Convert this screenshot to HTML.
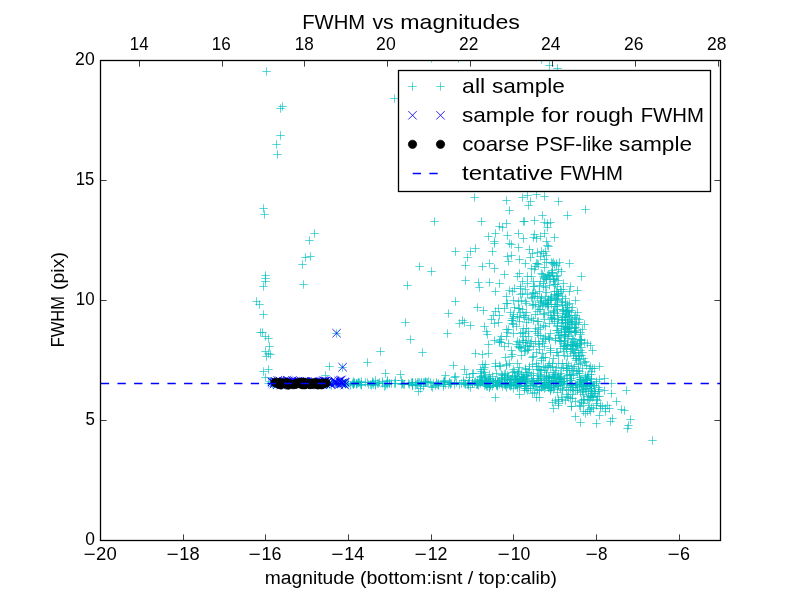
<!DOCTYPE html>
<html lang="en"><head><meta charset="utf-8"><title>FWHM vs magnitudes</title>
<style>
html,body{margin:0;padding:0;background:#fff}
body{width:800px;height:600px;overflow:hidden;font-family:"Liberation Sans",sans-serif}
svg{display:block;will-change:transform}
text{font-family:"Liberation Sans",sans-serif;fill:#000;stroke:none}
.tk{font-size:17.8px}.lg{font-size:20.6px}
.c{stroke:#00bfbf;stroke-width:1;stroke-opacity:.64;fill:none}
.b{stroke:#00f;stroke-width:.85;fill:none}
.k{fill:#000;stroke:#000;stroke-width:.7}
.ax{stroke:#000;fill:none}
</style></head><body>
<svg width="800" height="600" viewBox="0 0 800 600">
<defs>
<g id="p"><path d="M-4.2 0H4.2"/><path d="M0-4.2V4.2"/></g>
<path id="x" d="M-4.2-4.2L4.2 4.2M-4.2 4.2L4.2-4.2"/>
<circle id="o" r="4.17"/>
<clipPath id="cp"><rect x="100" y="60" width="621" height="481"/></clipPath>
</defs>
<rect width="800" height="600" fill="#fff"/>
<g clip-path="url(#cp)">
<g class="c">
<use href="#p" x="266.5" y="71.5"/>
<use href="#p" x="282.5" y="106.5"/>
<use href="#p" x="280.5" y="108.5"/>
<use href="#p" x="280.5" y="135.5"/>
<use href="#p" x="276.5" y="144.5"/>
<use href="#p" x="277.5" y="154.5"/>
<use href="#p" x="394.5" y="98.5"/>
<use href="#p" x="263.5" y="208.5"/>
<use href="#p" x="264.5" y="214.5"/>
<use href="#p" x="314.5" y="233.5"/>
<use href="#p" x="309.5" y="240.5"/>
<use href="#p" x="310.5" y="256.5"/>
<use href="#p" x="305.5" y="257.5"/>
<use href="#p" x="302.5" y="264.5"/>
<use href="#p" x="303.5" y="284.5"/>
<use href="#p" x="265.5" y="275.5"/>
<use href="#p" x="265.5" y="278.5"/>
<use href="#p" x="265.5" y="281.5"/>
<use href="#p" x="263.5" y="286.5"/>
<use href="#p" x="256.5" y="301.5"/>
<use href="#p" x="259.5" y="304.5"/>
<use href="#p" x="263.5" y="314.5"/>
<use href="#p" x="260.5" y="332.5"/>
<use href="#p" x="262.5" y="332.5"/>
<use href="#p" x="265.5" y="336.5"/>
<use href="#p" x="268.5" y="338.5"/>
<use href="#p" x="269.5" y="346.5"/>
<use href="#p" x="265.5" y="351.5"/>
<use href="#p" x="268.5" y="353.5"/>
<use href="#p" x="270.5" y="354.5"/>
<use href="#p" x="266.5" y="356.5"/>
<use href="#p" x="268.5" y="369.5"/>
<use href="#p" x="263.5" y="371.5"/>
<use href="#p" x="265.5" y="377.5"/>
<use href="#p" x="336.5" y="333.5"/>
<use href="#p" x="342.5" y="367.5"/>
<use href="#p" x="329.5" y="366.5"/>
<use href="#p" x="367.5" y="362.5"/>
<use href="#p" x="380.5" y="351.5"/>
<use href="#p" x="385.5" y="373.5"/>
<use href="#p" x="325.5" y="375.5"/>
<use href="#p" x="400.5" y="374.5"/>
<use href="#p" x="418.5" y="391.5"/>
<use href="#p" x="384.5" y="386.5"/>
<use href="#p" x="434.5" y="221.5"/>
<use href="#p" x="419.5" y="266.5"/>
<use href="#p" x="431.5" y="271.5"/>
<use href="#p" x="407.5" y="285.5"/>
<use href="#p" x="455.5" y="251.5"/>
<use href="#p" x="455.5" y="301.5"/>
<use href="#p" x="474.5" y="197.5"/>
<use href="#p" x="481.5" y="221.5"/>
<use href="#p" x="475.5" y="248.5"/>
<use href="#p" x="470.5" y="251.5"/>
<use href="#p" x="467.5" y="257.5"/>
<use href="#p" x="465.5" y="265.5"/>
<use href="#p" x="465.5" y="280.5"/>
<use href="#p" x="482.5" y="266.5"/>
<use href="#p" x="489.5" y="263.5"/>
<use href="#p" x="494.5" y="268.5"/>
<use href="#p" x="478.5" y="282.5"/>
<use href="#p" x="479.5" y="287.5"/>
<use href="#p" x="489.5" y="282.5"/>
<use href="#p" x="477.5" y="307.5"/>
<use href="#p" x="488.5" y="236.5"/>
<use href="#p" x="495.5" y="233.5"/>
<use href="#p" x="494.5" y="241.5"/>
<use href="#p" x="494.5" y="243.5"/>
<use href="#p" x="492.5" y="251.5"/>
<use href="#p" x="499.5" y="226.5"/>
<use href="#p" x="502.5" y="227.5"/>
<use href="#p" x="506.5" y="223.5"/>
<use href="#p" x="506.5" y="200.5"/>
<use href="#p" x="509.5" y="210.5"/>
<use href="#p" x="522.5" y="197.5"/>
<use href="#p" x="527.5" y="195.5"/>
<use href="#p" x="530.5" y="201.5"/>
<use href="#p" x="528.5" y="205.5"/>
<use href="#p" x="536.5" y="194.5"/>
<use href="#p" x="544.5" y="196.5"/>
<use href="#p" x="558.5" y="201.5"/>
<use href="#p" x="585.5" y="209.5"/>
<use href="#p" x="567.5" y="215.5"/>
<use href="#p" x="542.5" y="215.5"/>
<use href="#p" x="534.5" y="220.5"/>
<use href="#p" x="523.5" y="221.5"/>
<use href="#p" x="524.5" y="221.5"/>
<use href="#p" x="544.5" y="222.5"/>
<use href="#p" x="547.5" y="223.5"/>
<use href="#p" x="550.5" y="222.5"/>
<use href="#p" x="547.5" y="227.5"/>
<use href="#p" x="518.5" y="233.5"/>
<use href="#p" x="507.5" y="235.5"/>
<use href="#p" x="523.5" y="238.5"/>
<use href="#p" x="534.5" y="234.5"/>
<use href="#p" x="533.5" y="237.5"/>
<use href="#p" x="536.5" y="238.5"/>
<use href="#p" x="540.5" y="236.5"/>
<use href="#p" x="544.5" y="233.5"/>
<use href="#p" x="554.5" y="237.5"/>
<use href="#p" x="546.5" y="241.5"/>
<use href="#p" x="509.5" y="243.5"/>
<use href="#p" x="511.5" y="244.5"/>
<use href="#p" x="518.5" y="247.5"/>
<use href="#p" x="547.5" y="245.5"/>
<use href="#p" x="548.5" y="246.5"/>
<use href="#p" x="529.5" y="249.5"/>
<use href="#p" x="532.5" y="253.5"/>
<use href="#p" x="537.5" y="252.5"/>
<use href="#p" x="541.5" y="251.5"/>
<use href="#p" x="543.5" y="253.5"/>
<use href="#p" x="545.5" y="251.5"/>
<use href="#p" x="546.5" y="255.5"/>
<use href="#p" x="540.5" y="256.5"/>
<use href="#p" x="530.5" y="257.5"/>
<use href="#p" x="511.5" y="255.5"/>
<use href="#p" x="507.5" y="256.5"/>
<use href="#p" x="519.5" y="259.5"/>
<use href="#p" x="508.5" y="261.5"/>
<use href="#p" x="544.5" y="259.5"/>
<use href="#p" x="525.5" y="263.5"/>
<use href="#p" x="536.5" y="263.5"/>
<use href="#p" x="546.5" y="262.5"/>
<use href="#p" x="553.5" y="262.5"/>
<use href="#p" x="556.5" y="263.5"/>
<use href="#p" x="569.5" y="263.5"/>
<use href="#p" x="405.5" y="322.5"/>
<use href="#p" x="410.5" y="339.5"/>
<use href="#p" x="422.5" y="352.5"/>
<use href="#p" x="448.5" y="313.5"/>
<use href="#p" x="447.5" y="333.5"/>
<use href="#p" x="459.5" y="323.5"/>
<use href="#p" x="462.5" y="320.5"/>
<use href="#p" x="464.5" y="322.5"/>
<use href="#p" x="470.5" y="325.5"/>
<use href="#p" x="483.5" y="310.5"/>
<use href="#p" x="493.5" y="315.5"/>
<use href="#p" x="495.5" y="311.5"/>
<use href="#p" x="498.5" y="308.5"/>
<use href="#p" x="494.5" y="323.5"/>
<use href="#p" x="484.5" y="326.5"/>
<use href="#p" x="486.5" y="331.5"/>
<use href="#p" x="487.5" y="334.5"/>
<use href="#p" x="488.5" y="344.5"/>
<use href="#p" x="494.5" y="340.5"/>
<use href="#p" x="499.5" y="342.5"/>
<use href="#p" x="475.5" y="353.5"/>
<use href="#p" x="482.5" y="354.5"/>
<use href="#p" x="453.5" y="365.5"/>
<use href="#p" x="464.5" y="369.5"/>
<use href="#p" x="472.5" y="373.5"/>
<use href="#p" x="482.5" y="364.5"/>
<use href="#p" x="483.5" y="369.5"/>
<use href="#p" x="445.5" y="375.5"/>
<use href="#p" x="455.5" y="376.5"/>
<use href="#p" x="495.5" y="366.5"/>
<use href="#p" x="581.5" y="276.5"/>
<use href="#p" x="577.5" y="290.5"/>
<use href="#p" x="584.5" y="324.5"/>
<use href="#p" x="592.5" y="350.5"/>
<use href="#p" x="599.5" y="366.5"/>
<use href="#p" x="604.5" y="378.5"/>
<use href="#p" x="611.5" y="383.5"/>
<use href="#p" x="626.5" y="390.5"/>
<use href="#p" x="611.5" y="393.5"/>
<use href="#p" x="604.5" y="390.5"/>
<use href="#p" x="616.5" y="401.5"/>
<use href="#p" x="607.5" y="405.5"/>
<use href="#p" x="621.5" y="409.5"/>
<use href="#p" x="624.5" y="410.5"/>
<use href="#p" x="605.5" y="411.5"/>
<use href="#p" x="630.5" y="419.5"/>
<use href="#p" x="612.5" y="418.5"/>
<use href="#p" x="610.5" y="421.5"/>
<use href="#p" x="599.5" y="415.5"/>
<use href="#p" x="596.5" y="423.5"/>
<use href="#p" x="580.5" y="422.5"/>
<use href="#p" x="575.5" y="416.5"/>
<use href="#p" x="628.5" y="425.5"/>
<use href="#p" x="627.5" y="428.5"/>
<use href="#p" x="652.5" y="440.5"/>
<use href="#p" x="553.5" y="408.5"/>
<use href="#p" x="495.5" y="397.5"/>
<use href="#p" x="549.5" y="65.5"/>
<use href="#p" x="557.5" y="68.5"/>
<use href="#p" x="541.5" y="59.5"/>
<use href="#p" x="431.5" y="58.5"/>
<use href="#p" x="458.5" y="58.5"/>
<use href="#p" x="504.5" y="274.5"/>
<use href="#p" x="499.5" y="283.5"/>
<use href="#p" x="495.5" y="291.5"/>
<use href="#p" x="519.5" y="273.5"/>
<use href="#p" x="517.5" y="276.5"/>
<use href="#p" x="522.5" y="281.5"/>
<use href="#p" x="527.5" y="283.5"/>
<use href="#p" x="514.5" y="288.5"/>
<use href="#p" x="506.5" y="296.5"/>
<use href="#p" x="512.5" y="291.5"/>
<use href="#p" x="520.5" y="294.5"/>
<use href="#p" x="527.5" y="294.5"/>
<use href="#p" x="525.5" y="301.5"/>
<use href="#p" x="507.5" y="303.5"/>
<use href="#p" x="504.5" y="308.5"/>
<use href="#p" x="519.5" y="308.5"/>
<use href="#p" x="526.5" y="312.5"/>
<use href="#p" x="513.5" y="314.5"/>
<use href="#p" x="517.5" y="316.5"/>
<use href="#p" x="511.5" y="320.5"/>
<use href="#p" x="498.5" y="322.5"/>
<use href="#p" x="506.5" y="329.5"/>
<use href="#p" x="501.5" y="342.5"/>
<use href="#p" x="506.5" y="336.5"/>
<use href="#p" x="513.5" y="333.5"/>
<use href="#p" x="520.5" y="333.5"/>
<use href="#p" x="526.5" y="328.5"/>
<use href="#p" x="528.5" y="319.5"/>
<use href="#p" x="535.5" y="314.5"/>
<use href="#p" x="533.5" y="281.5"/>
<use href="#p" x="531.5" y="268.5"/>
<use href="#p" x="505.5" y="357.5"/>
<use href="#p" x="512.5" y="354.5"/>
<use href="#p" x="519.5" y="347.5"/>
<use href="#p" x="523.5" y="342.5"/>
<use href="#p" x="517.5" y="341.5"/>
<use href="#p" x="528.5" y="336.5"/>
<use href="#p" x="521.5" y="355.5"/>
<use href="#p" x="527.5" y="350.5"/>
<use href="#p" x="530.5" y="343.5"/>
<use href="#p" x="532.5" y="357.5"/>
<use href="#p" x="495.5" y="363.5"/>
<use href="#p" x="575.5" y="300.5"/>
<use href="#p" x="584.5" y="342.5"/>
<use href="#p" x="579.5" y="319.5"/>
<use href="#p" x="577.5" y="312.5"/>
<use href="#p" x="583.5" y="411.5"/>
<use href="#p" x="274.5" y="383.5"/>
<use href="#p" x="331.5" y="381.5"/>
<use href="#p" x="303.5" y="383.5"/>
<use href="#p" x="327.5" y="384.5"/>
<use href="#p" x="348.5" y="383.5"/>
<use href="#p" x="312.5" y="382.5"/>
<use href="#p" x="309.5" y="382.5"/>
<use href="#p" x="273.5" y="382.5"/>
<use href="#p" x="290.5" y="383.5"/>
<use href="#p" x="308.5" y="382.5"/>
<use href="#p" x="323.5" y="384.5"/>
<use href="#p" x="333.5" y="383.5"/>
<use href="#p" x="299.5" y="383.5"/>
<use href="#p" x="273.5" y="384.5"/>
<use href="#p" x="291.5" y="384.5"/>
<use href="#p" x="342.5" y="383.5"/>
<use href="#p" x="285.5" y="383.5"/>
<use href="#p" x="305.5" y="384.5"/>
<use href="#p" x="344.5" y="383.5"/>
<use href="#p" x="270.5" y="381.5"/>
<use href="#p" x="317.5" y="383.5"/>
<use href="#p" x="345.5" y="384.5"/>
<use href="#p" x="286.5" y="383.5"/>
<use href="#p" x="312.5" y="382.5"/>
<use href="#p" x="342.5" y="383.5"/>
<use href="#p" x="278.5" y="382.5"/>
<use href="#p" x="310.5" y="383.5"/>
<use href="#p" x="329.5" y="384.5"/>
<use href="#p" x="322.5" y="384.5"/>
<use href="#p" x="306.5" y="384.5"/>
<use href="#p" x="284.5" y="383.5"/>
<use href="#p" x="308.5" y="384.5"/>
<use href="#p" x="298.5" y="383.5"/>
<use href="#p" x="307.5" y="383.5"/>
<use href="#p" x="298.5" y="382.5"/>
<use href="#p" x="336.5" y="383.5"/>
<use href="#p" x="331.5" y="385.5"/>
<use href="#p" x="293.5" y="384.5"/>
<use href="#p" x="314.5" y="383.5"/>
<use href="#p" x="290.5" y="382.5"/>
<use href="#p" x="305.5" y="382.5"/>
<use href="#p" x="296.5" y="383.5"/>
<use href="#p" x="321.5" y="383.5"/>
<use href="#p" x="298.5" y="382.5"/>
<use href="#p" x="305.5" y="383.5"/>
<use href="#p" x="326.5" y="382.5"/>
<use href="#p" x="301.5" y="384.5"/>
<use href="#p" x="342.5" y="383.5"/>
<use href="#p" x="282.5" y="384.5"/>
<use href="#p" x="328.5" y="382.5"/>
<use href="#p" x="302.5" y="383.5"/>
<use href="#p" x="302.5" y="383.5"/>
<use href="#p" x="320.5" y="384.5"/>
<use href="#p" x="310.5" y="383.5"/>
<use href="#p" x="302.5" y="382.5"/>
<use href="#p" x="268.5" y="383.5"/>
<use href="#p" x="275.5" y="383.5"/>
<use href="#p" x="326.5" y="383.5"/>
<use href="#p" x="310.5" y="382.5"/>
<use href="#p" x="325.5" y="384.5"/>
<use href="#p" x="346.5" y="383.5"/>
<use href="#p" x="323.5" y="382.5"/>
<use href="#p" x="272.5" y="383.5"/>
<use href="#p" x="293.5" y="383.5"/>
<use href="#p" x="316.5" y="383.5"/>
<use href="#p" x="287.5" y="384.5"/>
<use href="#p" x="347.5" y="383.5"/>
<use href="#p" x="345.5" y="383.5"/>
<use href="#p" x="337.5" y="384.5"/>
<use href="#p" x="306.5" y="383.5"/>
<use href="#p" x="394.5" y="383.5"/>
<use href="#p" x="368.5" y="384.5"/>
<use href="#p" x="409.5" y="384.5"/>
<use href="#p" x="379.5" y="382.5"/>
<use href="#p" x="412.5" y="382.5"/>
<use href="#p" x="408.5" y="383.5"/>
<use href="#p" x="356.5" y="383.5"/>
<use href="#p" x="395.5" y="380.5"/>
<use href="#p" x="371.5" y="385.5"/>
<use href="#p" x="402.5" y="383.5"/>
<use href="#p" x="387.5" y="384.5"/>
<use href="#p" x="382.5" y="381.5"/>
<use href="#p" x="412.5" y="385.5"/>
<use href="#p" x="354.5" y="382.5"/>
<use href="#p" x="389.5" y="383.5"/>
<use href="#p" x="372.5" y="381.5"/>
<use href="#p" x="352.5" y="383.5"/>
<use href="#p" x="402.5" y="383.5"/>
<use href="#p" x="389.5" y="383.5"/>
<use href="#p" x="412.5" y="384.5"/>
<use href="#p" x="391.5" y="383.5"/>
<use href="#p" x="373.5" y="384.5"/>
<use href="#p" x="418.5" y="382.5"/>
<use href="#p" x="358.5" y="382.5"/>
<use href="#p" x="353.5" y="383.5"/>
<use href="#p" x="401.5" y="384.5"/>
<use href="#p" x="375.5" y="385.5"/>
<use href="#p" x="375.5" y="384.5"/>
<use href="#p" x="411.5" y="382.5"/>
<use href="#p" x="372.5" y="383.5"/>
<use href="#p" x="412.5" y="385.5"/>
<use href="#p" x="395.5" y="383.5"/>
<use href="#p" x="373.5" y="382.5"/>
<use href="#p" x="354.5" y="383.5"/>
<use href="#p" x="367.5" y="382.5"/>
<use href="#p" x="417.5" y="384.5"/>
<use href="#p" x="378.5" y="383.5"/>
<use href="#p" x="361.5" y="385.5"/>
<use href="#p" x="370.5" y="384.5"/>
<use href="#p" x="412.5" y="382.5"/>
<use href="#p" x="361.5" y="384.5"/>
<use href="#p" x="404.5" y="384.5"/>
<use href="#p" x="359.5" y="382.5"/>
<use href="#p" x="417.5" y="382.5"/>
<use href="#p" x="387.5" y="380.5"/>
<use href="#p" x="353.5" y="384.5"/>
<use href="#p" x="415.5" y="382.5"/>
<use href="#p" x="375.5" y="380.5"/>
<use href="#p" x="401.5" y="380.5"/>
<use href="#p" x="386.5" y="383.5"/>
<use href="#p" x="356.5" y="384.5"/>
<use href="#p" x="357.5" y="383.5"/>
<use href="#p" x="360.5" y="384.5"/>
<use href="#p" x="361.5" y="381.5"/>
<use href="#p" x="353.5" y="381.5"/>
<use href="#p" x="353.5" y="384.5"/>
<use href="#p" x="416.5" y="384.5"/>
<use href="#p" x="356.5" y="383.5"/>
<use href="#p" x="385.5" y="385.5"/>
<use href="#p" x="358.5" y="382.5"/>
<use href="#p" x="365.5" y="382.5"/>
<use href="#p" x="403.5" y="384.5"/>
<use href="#p" x="415.5" y="385.5"/>
<use href="#p" x="382.5" y="383.5"/>
<use href="#p" x="350.5" y="385.5"/>
<use href="#p" x="419.5" y="382.5"/>
<use href="#p" x="353.5" y="383.5"/>
<use href="#p" x="377.5" y="383.5"/>
<use href="#p" x="387.5" y="381.5"/>
<use href="#p" x="412.5" y="383.5"/>
<use href="#p" x="423.5" y="382.5"/>
<use href="#p" x="431.5" y="386.5"/>
<use href="#p" x="459.5" y="384.5"/>
<use href="#p" x="454.5" y="384.5"/>
<use href="#p" x="454.5" y="377.5"/>
<use href="#p" x="423.5" y="386.5"/>
<use href="#p" x="428.5" y="381.5"/>
<use href="#p" x="421.5" y="382.5"/>
<use href="#p" x="424.5" y="382.5"/>
<use href="#p" x="425.5" y="381.5"/>
<use href="#p" x="468.5" y="383.5"/>
<use href="#p" x="464.5" y="383.5"/>
<use href="#p" x="430.5" y="382.5"/>
<use href="#p" x="432.5" y="387.5"/>
<use href="#p" x="468.5" y="385.5"/>
<use href="#p" x="448.5" y="384.5"/>
<use href="#p" x="438.5" y="384.5"/>
<use href="#p" x="443.5" y="384.5"/>
<use href="#p" x="433.5" y="383.5"/>
<use href="#p" x="449.5" y="382.5"/>
<use href="#p" x="456.5" y="382.5"/>
<use href="#p" x="445.5" y="384.5"/>
<use href="#p" x="461.5" y="383.5"/>
<use href="#p" x="425.5" y="382.5"/>
<use href="#p" x="450.5" y="383.5"/>
<use href="#p" x="469.5" y="377.5"/>
<use href="#p" x="427.5" y="382.5"/>
<use href="#p" x="444.5" y="380.5"/>
<use href="#p" x="451.5" y="383.5"/>
<use href="#p" x="436.5" y="382.5"/>
<use href="#p" x="468.5" y="384.5"/>
<use href="#p" x="444.5" y="381.5"/>
<use href="#p" x="443.5" y="386.5"/>
<use href="#p" x="465.5" y="383.5"/>
<use href="#p" x="420.5" y="388.5"/>
<use href="#p" x="463.5" y="382.5"/>
<use href="#p" x="426.5" y="382.5"/>
<use href="#p" x="438.5" y="383.5"/>
<use href="#p" x="444.5" y="382.5"/>
<use href="#p" x="443.5" y="381.5"/>
<use href="#p" x="421.5" y="382.5"/>
<use href="#p" x="435.5" y="385.5"/>
<use href="#p" x="437.5" y="384.5"/>
<use href="#p" x="467.5" y="384.5"/>
<use href="#p" x="465.5" y="384.5"/>
<use href="#p" x="449.5" y="382.5"/>
<use href="#p" x="466.5" y="374.5"/>
<use href="#p" x="463.5" y="380.5"/>
<use href="#p" x="438.5" y="385.5"/>
<use href="#p" x="425.5" y="382.5"/>
<use href="#p" x="450.5" y="384.5"/>
<use href="#p" x="436.5" y="383.5"/>
<use href="#p" x="420.5" y="384.5"/>
<use href="#p" x="469.5" y="380.5"/>
<use href="#p" x="468.5" y="383.5"/>
<use href="#p" x="504.5" y="382.5"/>
<use href="#p" x="478.5" y="385.5"/>
<use href="#p" x="477.5" y="383.5"/>
<use href="#p" x="473.5" y="373.5"/>
<use href="#p" x="498.5" y="381.5"/>
<use href="#p" x="479.5" y="382.5"/>
<use href="#p" x="497.5" y="385.5"/>
<use href="#p" x="510.5" y="379.5"/>
<use href="#p" x="513.5" y="369.5"/>
<use href="#p" x="475.5" y="381.5"/>
<use href="#p" x="486.5" y="383.5"/>
<use href="#p" x="490.5" y="382.5"/>
<use href="#p" x="489.5" y="387.5"/>
<use href="#p" x="490.5" y="385.5"/>
<use href="#p" x="492.5" y="386.5"/>
<use href="#p" x="507.5" y="384.5"/>
<use href="#p" x="485.5" y="382.5"/>
<use href="#p" x="487.5" y="386.5"/>
<use href="#p" x="489.5" y="387.5"/>
<use href="#p" x="477.5" y="384.5"/>
<use href="#p" x="501.5" y="383.5"/>
<use href="#p" x="490.5" y="385.5"/>
<use href="#p" x="515.5" y="382.5"/>
<use href="#p" x="511.5" y="385.5"/>
<use href="#p" x="481.5" y="381.5"/>
<use href="#p" x="482.5" y="381.5"/>
<use href="#p" x="509.5" y="384.5"/>
<use href="#p" x="497.5" y="384.5"/>
<use href="#p" x="470.5" y="387.5"/>
<use href="#p" x="501.5" y="382.5"/>
<use href="#p" x="489.5" y="383.5"/>
<use href="#p" x="509.5" y="380.5"/>
<use href="#p" x="507.5" y="378.5"/>
<use href="#p" x="516.5" y="378.5"/>
<use href="#p" x="504.5" y="384.5"/>
<use href="#p" x="515.5" y="379.5"/>
<use href="#p" x="484.5" y="385.5"/>
<use href="#p" x="486.5" y="386.5"/>
<use href="#p" x="472.5" y="382.5"/>
<use href="#p" x="513.5" y="388.5"/>
<use href="#p" x="477.5" y="383.5"/>
<use href="#p" x="497.5" y="386.5"/>
<use href="#p" x="495.5" y="382.5"/>
<use href="#p" x="510.5" y="386.5"/>
<use href="#p" x="489.5" y="381.5"/>
<use href="#p" x="477.5" y="384.5"/>
<use href="#p" x="489.5" y="382.5"/>
<use href="#p" x="472.5" y="383.5"/>
<use href="#p" x="485.5" y="384.5"/>
<use href="#p" x="501.5" y="383.5"/>
<use href="#p" x="472.5" y="383.5"/>
<use href="#p" x="519.5" y="385.5"/>
<use href="#p" x="496.5" y="385.5"/>
<use href="#p" x="485.5" y="380.5"/>
<use href="#p" x="511.5" y="384.5"/>
<use href="#p" x="476.5" y="384.5"/>
<use href="#p" x="486.5" y="381.5"/>
<use href="#p" x="516.5" y="384.5"/>
<use href="#p" x="481.5" y="380.5"/>
<use href="#p" x="506.5" y="387.5"/>
<use href="#p" x="474.5" y="382.5"/>
<use href="#p" x="496.5" y="384.5"/>
<use href="#p" x="502.5" y="386.5"/>
<use href="#p" x="480.5" y="383.5"/>
<use href="#p" x="486.5" y="384.5"/>
<use href="#p" x="497.5" y="380.5"/>
<use href="#p" x="499.5" y="381.5"/>
<use href="#p" x="477.5" y="380.5"/>
<use href="#p" x="490.5" y="382.5"/>
<use href="#p" x="519.5" y="386.5"/>
<use href="#p" x="486.5" y="383.5"/>
<use href="#p" x="509.5" y="385.5"/>
<use href="#p" x="480.5" y="381.5"/>
<use href="#p" x="493.5" y="381.5"/>
<use href="#p" x="495.5" y="382.5"/>
<use href="#p" x="499.5" y="384.5"/>
<use href="#p" x="505.5" y="384.5"/>
<use href="#p" x="509.5" y="383.5"/>
<use href="#p" x="505.5" y="385.5"/>
<use href="#p" x="510.5" y="382.5"/>
<use href="#p" x="527.5" y="374.5"/>
<use href="#p" x="544.5" y="385.5"/>
<use href="#p" x="550.5" y="390.5"/>
<use href="#p" x="533.5" y="373.5"/>
<use href="#p" x="522.5" y="379.5"/>
<use href="#p" x="536.5" y="382.5"/>
<use href="#p" x="533.5" y="383.5"/>
<use href="#p" x="534.5" y="383.5"/>
<use href="#p" x="525.5" y="386.5"/>
<use href="#p" x="549.5" y="380.5"/>
<use href="#p" x="524.5" y="379.5"/>
<use href="#p" x="516.5" y="383.5"/>
<use href="#p" x="546.5" y="384.5"/>
<use href="#p" x="548.5" y="384.5"/>
<use href="#p" x="525.5" y="383.5"/>
<use href="#p" x="522.5" y="377.5"/>
<use href="#p" x="541.5" y="382.5"/>
<use href="#p" x="556.5" y="383.5"/>
<use href="#p" x="526.5" y="388.5"/>
<use href="#p" x="539.5" y="390.5"/>
<use href="#p" x="526.5" y="385.5"/>
<use href="#p" x="548.5" y="387.5"/>
<use href="#p" x="536.5" y="386.5"/>
<use href="#p" x="532.5" y="381.5"/>
<use href="#p" x="544.5" y="385.5"/>
<use href="#p" x="538.5" y="380.5"/>
<use href="#p" x="524.5" y="388.5"/>
<use href="#p" x="533.5" y="385.5"/>
<use href="#p" x="558.5" y="381.5"/>
<use href="#p" x="551.5" y="385.5"/>
<use href="#p" x="538.5" y="375.5"/>
<use href="#p" x="544.5" y="379.5"/>
<use href="#p" x="521.5" y="378.5"/>
<use href="#p" x="533.5" y="384.5"/>
<use href="#p" x="555.5" y="383.5"/>
<use href="#p" x="523.5" y="376.5"/>
<use href="#p" x="559.5" y="382.5"/>
<use href="#p" x="553.5" y="385.5"/>
<use href="#p" x="545.5" y="387.5"/>
<use href="#p" x="531.5" y="375.5"/>
<use href="#p" x="519.5" y="378.5"/>
<use href="#p" x="528.5" y="388.5"/>
<use href="#p" x="548.5" y="382.5"/>
<use href="#p" x="533.5" y="381.5"/>
<use href="#p" x="551.5" y="388.5"/>
<use href="#p" x="524.5" y="386.5"/>
<use href="#p" x="552.5" y="376.5"/>
<use href="#p" x="553.5" y="383.5"/>
<use href="#p" x="547.5" y="385.5"/>
<use href="#p" x="524.5" y="385.5"/>
<use href="#p" x="525.5" y="381.5"/>
<use href="#p" x="517.5" y="384.5"/>
<use href="#p" x="517.5" y="373.5"/>
<use href="#p" x="548.5" y="383.5"/>
<use href="#p" x="537.5" y="390.5"/>
<use href="#p" x="549.5" y="387.5"/>
<use href="#p" x="527.5" y="390.5"/>
<use href="#p" x="530.5" y="385.5"/>
<use href="#p" x="555.5" y="382.5"/>
<use href="#p" x="559.5" y="379.5"/>
<use href="#p" x="519.5" y="382.5"/>
<use href="#p" x="550.5" y="390.5"/>
<use href="#p" x="540.5" y="382.5"/>
<use href="#p" x="515.5" y="385.5"/>
<use href="#p" x="542.5" y="386.5"/>
<use href="#p" x="527.5" y="382.5"/>
<use href="#p" x="530.5" y="388.5"/>
<use href="#p" x="558.5" y="374.5"/>
<use href="#p" x="548.5" y="387.5"/>
<use href="#p" x="517.5" y="384.5"/>
<use href="#p" x="545.5" y="384.5"/>
<use href="#p" x="515.5" y="382.5"/>
<use href="#p" x="554.5" y="374.5"/>
<use href="#p" x="541.5" y="387.5"/>
<use href="#p" x="543.5" y="383.5"/>
<use href="#p" x="596.5" y="381.5"/>
<use href="#p" x="593.5" y="385.5"/>
<use href="#p" x="583.5" y="386.5"/>
<use href="#p" x="586.5" y="382.5"/>
<use href="#p" x="570.5" y="380.5"/>
<use href="#p" x="570.5" y="385.5"/>
<use href="#p" x="562.5" y="389.5"/>
<use href="#p" x="596.5" y="383.5"/>
<use href="#p" x="571.5" y="383.5"/>
<use href="#p" x="599.5" y="389.5"/>
<use href="#p" x="560.5" y="382.5"/>
<use href="#p" x="591.5" y="382.5"/>
<use href="#p" x="581.5" y="384.5"/>
<use href="#p" x="561.5" y="381.5"/>
<use href="#p" x="586.5" y="380.5"/>
<use href="#p" x="588.5" y="391.5"/>
<use href="#p" x="587.5" y="385.5"/>
<use href="#p" x="587.5" y="377.5"/>
<use href="#p" x="587.5" y="378.5"/>
<use href="#p" x="590.5" y="383.5"/>
<use href="#p" x="575.5" y="384.5"/>
<use href="#p" x="598.5" y="387.5"/>
<use href="#p" x="579.5" y="382.5"/>
<use href="#p" x="570.5" y="389.5"/>
<use href="#p" x="599.5" y="379.5"/>
<use href="#p" x="571.5" y="384.5"/>
<use href="#p" x="577.5" y="387.5"/>
<use href="#p" x="587.5" y="376.5"/>
<use href="#p" x="591.5" y="386.5"/>
<use href="#p" x="572.5" y="394.5"/>
<use href="#p" x="561.5" y="382.5"/>
<use href="#p" x="583.5" y="381.5"/>
<use href="#p" x="583.5" y="381.5"/>
<use href="#p" x="589.5" y="385.5"/>
<use href="#p" x="570.5" y="380.5"/>
<use href="#p" x="592.5" y="368.5"/>
<use href="#p" x="590.5" y="384.5"/>
<use href="#p" x="594.5" y="391.5"/>
<use href="#p" x="590.5" y="384.5"/>
<use href="#p" x="586.5" y="380.5"/>
<use href="#p" x="582.5" y="368.5"/>
<use href="#p" x="594.5" y="385.5"/>
<use href="#p" x="569.5" y="374.5"/>
<use href="#p" x="586.5" y="379.5"/>
<use href="#p" x="591.5" y="379.5"/>
<use href="#p" x="532.5" y="383.5"/>
<use href="#p" x="502.5" y="375.5"/>
<use href="#p" x="562.5" y="381.5"/>
<use href="#p" x="502.5" y="377.5"/>
<use href="#p" x="564.5" y="383.5"/>
<use href="#p" x="495.5" y="380.5"/>
<use href="#p" x="560.5" y="377.5"/>
<use href="#p" x="487.5" y="382.5"/>
<use href="#p" x="482.5" y="381.5"/>
<use href="#p" x="490.5" y="382.5"/>
<use href="#p" x="540.5" y="370.5"/>
<use href="#p" x="501.5" y="374.5"/>
<use href="#p" x="504.5" y="377.5"/>
<use href="#p" x="537.5" y="378.5"/>
<use href="#p" x="526.5" y="381.5"/>
<use href="#p" x="515.5" y="376.5"/>
<use href="#p" x="495.5" y="382.5"/>
<use href="#p" x="557.5" y="377.5"/>
<use href="#p" x="511.5" y="382.5"/>
<use href="#p" x="506.5" y="383.5"/>
<use href="#p" x="539.5" y="369.5"/>
<use href="#p" x="553.5" y="381.5"/>
<use href="#p" x="492.5" y="376.5"/>
<use href="#p" x="561.5" y="376.5"/>
<use href="#p" x="517.5" y="376.5"/>
<use href="#p" x="519.5" y="381.5"/>
<use href="#p" x="517.5" y="381.5"/>
<use href="#p" x="544.5" y="382.5"/>
<use href="#p" x="525.5" y="368.5"/>
<use href="#p" x="488.5" y="382.5"/>
<use href="#p" x="524.5" y="379.5"/>
<use href="#p" x="553.5" y="372.5"/>
<use href="#p" x="526.5" y="381.5"/>
<use href="#p" x="514.5" y="375.5"/>
<use href="#p" x="484.5" y="377.5"/>
<use href="#p" x="540.5" y="376.5"/>
<use href="#p" x="514.5" y="382.5"/>
<use href="#p" x="508.5" y="376.5"/>
<use href="#p" x="512.5" y="372.5"/>
<use href="#p" x="516.5" y="382.5"/>
<use href="#p" x="509.5" y="363.5"/>
<use href="#p" x="506.5" y="365.5"/>
<use href="#p" x="520.5" y="381.5"/>
<use href="#p" x="485.5" y="364.5"/>
<use href="#p" x="500.5" y="366.5"/>
<use href="#p" x="518.5" y="382.5"/>
<use href="#p" x="555.5" y="375.5"/>
<use href="#p" x="517.5" y="363.5"/>
<use href="#p" x="528.5" y="372.5"/>
<use href="#p" x="556.5" y="382.5"/>
<use href="#p" x="548.5" y="380.5"/>
<use href="#p" x="541.5" y="378.5"/>
<use href="#p" x="533.5" y="380.5"/>
<use href="#p" x="531.5" y="380.5"/>
<use href="#p" x="497.5" y="382.5"/>
<use href="#p" x="493.5" y="383.5"/>
<use href="#p" x="486.5" y="381.5"/>
<use href="#p" x="489.5" y="380.5"/>
<use href="#p" x="533.5" y="378.5"/>
<use href="#p" x="532.5" y="364.5"/>
<use href="#p" x="485.5" y="382.5"/>
<use href="#p" x="551.5" y="380.5"/>
<use href="#p" x="518.5" y="371.5"/>
<use href="#p" x="526.5" y="372.5"/>
<use href="#p" x="488.5" y="382.5"/>
<use href="#p" x="553.5" y="376.5"/>
<use href="#p" x="488.5" y="382.5"/>
<use href="#p" x="499.5" y="365.5"/>
<use href="#p" x="520.5" y="381.5"/>
<use href="#p" x="523.5" y="377.5"/>
<use href="#p" x="526.5" y="379.5"/>
<use href="#p" x="559.5" y="379.5"/>
<use href="#p" x="484.5" y="381.5"/>
<use href="#p" x="538.5" y="380.5"/>
<use href="#p" x="517.5" y="381.5"/>
<use href="#p" x="549.5" y="377.5"/>
<use href="#p" x="537.5" y="380.5"/>
<use href="#p" x="549.5" y="378.5"/>
<use href="#p" x="553.5" y="378.5"/>
<use href="#p" x="546.5" y="376.5"/>
<use href="#p" x="526.5" y="378.5"/>
<use href="#p" x="546.5" y="378.5"/>
<use href="#p" x="546.5" y="377.5"/>
<use href="#p" x="558.5" y="378.5"/>
<use href="#p" x="516.5" y="380.5"/>
<use href="#p" x="490.5" y="378.5"/>
<use href="#p" x="505.5" y="373.5"/>
<use href="#p" x="490.5" y="379.5"/>
<use href="#p" x="512.5" y="377.5"/>
<use href="#p" x="524.5" y="377.5"/>
<use href="#p" x="519.5" y="380.5"/>
<use href="#p" x="518.5" y="372.5"/>
<use href="#p" x="489.5" y="374.5"/>
<use href="#p" x="479.5" y="379.5"/>
<use href="#p" x="488.5" y="378.5"/>
<use href="#p" x="507.5" y="379.5"/>
<use href="#p" x="484.5" y="367.5"/>
<use href="#p" x="483.5" y="375.5"/>
<use href="#p" x="529.5" y="366.5"/>
<use href="#p" x="496.5" y="373.5"/>
<use href="#p" x="481.5" y="373.5"/>
<use href="#p" x="504.5" y="379.5"/>
<use href="#p" x="514.5" y="371.5"/>
<use href="#p" x="501.5" y="378.5"/>
<use href="#p" x="484.5" y="372.5"/>
<use href="#p" x="504.5" y="374.5"/>
<use href="#p" x="481.5" y="377.5"/>
<use href="#p" x="515.5" y="379.5"/>
<use href="#p" x="526.5" y="376.5"/>
<use href="#p" x="480.5" y="376.5"/>
<use href="#p" x="507.5" y="375.5"/>
<use href="#p" x="521.5" y="380.5"/>
<use href="#p" x="511.5" y="379.5"/>
<use href="#p" x="485.5" y="376.5"/>
<use href="#p" x="481.5" y="371.5"/>
<use href="#p" x="501.5" y="379.5"/>
<use href="#p" x="480.5" y="369.5"/>
<use href="#p" x="504.5" y="380.5"/>
<use href="#p" x="565.5" y="313.5"/>
<use href="#p" x="564.5" y="340.5"/>
<use href="#p" x="562.5" y="317.5"/>
<use href="#p" x="564.5" y="316.5"/>
<use href="#p" x="568.5" y="316.5"/>
<use href="#p" x="567.5" y="344.5"/>
<use href="#p" x="575.5" y="332.5"/>
<use href="#p" x="565.5" y="317.5"/>
<use href="#p" x="571.5" y="321.5"/>
<use href="#p" x="574.5" y="328.5"/>
<use href="#p" x="571.5" y="332.5"/>
<use href="#p" x="561.5" y="302.5"/>
<use href="#p" x="561.5" y="332.5"/>
<use href="#p" x="558.5" y="319.5"/>
<use href="#p" x="557.5" y="313.5"/>
<use href="#p" x="562.5" y="317.5"/>
<use href="#p" x="574.5" y="331.5"/>
<use href="#p" x="564.5" y="343.5"/>
<use href="#p" x="565.5" y="323.5"/>
<use href="#p" x="561.5" y="328.5"/>
<use href="#p" x="554.5" y="312.5"/>
<use href="#p" x="575.5" y="327.5"/>
<use href="#p" x="570.5" y="331.5"/>
<use href="#p" x="567.5" y="304.5"/>
<use href="#p" x="569.5" y="315.5"/>
<use href="#p" x="564.5" y="331.5"/>
<use href="#p" x="548.5" y="300.5"/>
<use href="#p" x="574.5" y="317.5"/>
<use href="#p" x="572.5" y="324.5"/>
<use href="#p" x="571.5" y="406.5"/>
<use href="#p" x="507.5" y="332.5"/>
<use href="#p" x="557.5" y="325.5"/>
<use href="#p" x="555.5" y="284.5"/>
<use href="#p" x="499.5" y="341.5"/>
<use href="#p" x="573.5" y="353.5"/>
<use href="#p" x="531.5" y="318.5"/>
<use href="#p" x="557.5" y="300.5"/>
<use href="#p" x="557.5" y="352.5"/>
<use href="#p" x="557.5" y="326.5"/>
<use href="#p" x="560.5" y="341.5"/>
<use href="#p" x="521.5" y="348.5"/>
<use href="#p" x="528.5" y="331.5"/>
<use href="#p" x="570.5" y="351.5"/>
<use href="#p" x="586.5" y="365.5"/>
<use href="#p" x="559.5" y="262.5"/>
<use href="#p" x="538.5" y="343.5"/>
<use href="#p" x="582.5" y="380.5"/>
<use href="#p" x="572.5" y="385.5"/>
<use href="#p" x="580.5" y="334.5"/>
<use href="#p" x="570.5" y="321.5"/>
<use href="#p" x="538.5" y="264.5"/>
<use href="#p" x="536.5" y="363.5"/>
<use href="#p" x="562.5" y="363.5"/>
<use href="#p" x="512.5" y="318.5"/>
<use href="#p" x="549.5" y="275.5"/>
<use href="#p" x="553.5" y="311.5"/>
<use href="#p" x="542.5" y="305.5"/>
<use href="#p" x="543.5" y="357.5"/>
<use href="#p" x="590.5" y="397.5"/>
<use href="#p" x="543.5" y="386.5"/>
<use href="#p" x="547.5" y="306.5"/>
<use href="#p" x="582.5" y="391.5"/>
<use href="#p" x="576.5" y="358.5"/>
<use href="#p" x="519.5" y="321.5"/>
<use href="#p" x="523.5" y="328.5"/>
<use href="#p" x="535.5" y="266.5"/>
<use href="#p" x="556.5" y="352.5"/>
<use href="#p" x="539.5" y="380.5"/>
<use href="#p" x="583.5" y="399.5"/>
<use href="#p" x="518.5" y="308.5"/>
<use href="#p" x="570.5" y="344.5"/>
<use href="#p" x="565.5" y="345.5"/>
<use href="#p" x="537.5" y="296.5"/>
<use href="#p" x="561.5" y="341.5"/>
<use href="#p" x="542.5" y="343.5"/>
<use href="#p" x="567.5" y="320.5"/>
<use href="#p" x="567.5" y="310.5"/>
<use href="#p" x="563.5" y="326.5"/>
<use href="#p" x="557.5" y="315.5"/>
<use href="#p" x="573.5" y="375.5"/>
<use href="#p" x="539.5" y="344.5"/>
<use href="#p" x="525.5" y="342.5"/>
<use href="#p" x="575.5" y="390.5"/>
<use href="#p" x="569.5" y="328.5"/>
<use href="#p" x="566.5" y="394.5"/>
<use href="#p" x="590.5" y="395.5"/>
<use href="#p" x="563.5" y="283.5"/>
<use href="#p" x="557.5" y="323.5"/>
<use href="#p" x="576.5" y="318.5"/>
<use href="#p" x="537.5" y="333.5"/>
<use href="#p" x="576.5" y="360.5"/>
<use href="#p" x="575.5" y="350.5"/>
<use href="#p" x="591.5" y="378.5"/>
<use href="#p" x="545.5" y="339.5"/>
<use href="#p" x="568.5" y="365.5"/>
<use href="#p" x="541.5" y="370.5"/>
<use href="#p" x="591.5" y="396.5"/>
<use href="#p" x="558.5" y="363.5"/>
<use href="#p" x="566.5" y="329.5"/>
<use href="#p" x="586.5" y="391.5"/>
<use href="#p" x="539.5" y="389.5"/>
<use href="#p" x="544.5" y="267.5"/>
<use href="#p" x="575.5" y="323.5"/>
<use href="#p" x="545.5" y="326.5"/>
<use href="#p" x="581.5" y="400.5"/>
<use href="#p" x="565.5" y="298.5"/>
<use href="#p" x="534.5" y="269.5"/>
<use href="#p" x="513.5" y="324.5"/>
<use href="#p" x="522.5" y="293.5"/>
<use href="#p" x="506.5" y="303.5"/>
<use href="#p" x="563.5" y="289.5"/>
<use href="#p" x="576.5" y="345.5"/>
<use href="#p" x="551.5" y="317.5"/>
<use href="#p" x="563.5" y="311.5"/>
<use href="#p" x="580.5" y="379.5"/>
<use href="#p" x="568.5" y="326.5"/>
<use href="#p" x="580.5" y="363.5"/>
<use href="#p" x="540.5" y="309.5"/>
<use href="#p" x="577.5" y="390.5"/>
<use href="#p" x="535.5" y="328.5"/>
<use href="#p" x="554.5" y="294.5"/>
<use href="#p" x="567.5" y="383.5"/>
<use href="#p" x="581.5" y="339.5"/>
<use href="#p" x="575.5" y="343.5"/>
<use href="#p" x="550.5" y="300.5"/>
<use href="#p" x="563.5" y="381.5"/>
<use href="#p" x="609.5" y="408.5"/>
<use href="#p" x="558.5" y="385.5"/>
<use href="#p" x="583.5" y="358.5"/>
<use href="#p" x="549.5" y="382.5"/>
<use href="#p" x="573.5" y="355.5"/>
<use href="#p" x="548.5" y="300.5"/>
<use href="#p" x="558.5" y="355.5"/>
<use href="#p" x="561.5" y="271.5"/>
<use href="#p" x="560.5" y="373.5"/>
<use href="#p" x="570.5" y="375.5"/>
<use href="#p" x="568.5" y="336.5"/>
<use href="#p" x="553.5" y="281.5"/>
<use href="#p" x="520.5" y="286.5"/>
<use href="#p" x="531.5" y="276.5"/>
<use href="#p" x="583.5" y="385.5"/>
<use href="#p" x="550.5" y="298.5"/>
<use href="#p" x="575.5" y="315.5"/>
<use href="#p" x="585.5" y="413.5"/>
<use href="#p" x="553.5" y="389.5"/>
<use href="#p" x="548.5" y="299.5"/>
<use href="#p" x="580.5" y="406.5"/>
<use href="#p" x="550.5" y="350.5"/>
<use href="#p" x="532.5" y="293.5"/>
<use href="#p" x="584.5" y="386.5"/>
<use href="#p" x="572.5" y="346.5"/>
<use href="#p" x="548.5" y="304.5"/>
<use href="#p" x="585.5" y="361.5"/>
<use href="#p" x="556.5" y="265.5"/>
<use href="#p" x="574.5" y="327.5"/>
<use href="#p" x="531.5" y="341.5"/>
<use href="#p" x="575.5" y="401.5"/>
<use href="#p" x="575.5" y="358.5"/>
<use href="#p" x="550.5" y="352.5"/>
<use href="#p" x="554.5" y="291.5"/>
<use href="#p" x="578.5" y="364.5"/>
<use href="#p" x="552.5" y="263.5"/>
<use href="#p" x="574.5" y="352.5"/>
<use href="#p" x="584.5" y="399.5"/>
<use href="#p" x="558.5" y="401.5"/>
<use href="#p" x="555.5" y="400.5"/>
<use href="#p" x="524.5" y="386.5"/>
<use href="#p" x="569.5" y="331.5"/>
<use href="#p" x="558.5" y="280.5"/>
<use href="#p" x="572.5" y="307.5"/>
<use href="#p" x="589.5" y="409.5"/>
<use href="#p" x="524.5" y="351.5"/>
<use href="#p" x="546.5" y="279.5"/>
<use href="#p" x="541.5" y="273.5"/>
<use href="#p" x="522.5" y="340.5"/>
<use href="#p" x="538.5" y="329.5"/>
<use href="#p" x="534.5" y="296.5"/>
<use href="#p" x="516.5" y="344.5"/>
<use href="#p" x="545.5" y="304.5"/>
<use href="#p" x="513.5" y="316.5"/>
<use href="#p" x="548.5" y="365.5"/>
<use href="#p" x="569.5" y="324.5"/>
<use href="#p" x="541.5" y="297.5"/>
<use href="#p" x="548.5" y="274.5"/>
<use href="#p" x="543.5" y="276.5"/>
<use href="#p" x="588.5" y="374.5"/>
<use href="#p" x="523.5" y="315.5"/>
<use href="#p" x="572.5" y="319.5"/>
<use href="#p" x="554.5" y="306.5"/>
<use href="#p" x="523.5" y="336.5"/>
<use href="#p" x="576.5" y="385.5"/>
<use href="#p" x="551.5" y="381.5"/>
<use href="#p" x="581.5" y="402.5"/>
<use href="#p" x="520.5" y="288.5"/>
<use href="#p" x="527.5" y="276.5"/>
<use href="#p" x="544.5" y="278.5"/>
<use href="#p" x="580.5" y="340.5"/>
<use href="#p" x="554.5" y="321.5"/>
<use href="#p" x="533.5" y="286.5"/>
<use href="#p" x="500.5" y="339.5"/>
<use href="#p" x="577.5" y="373.5"/>
<use href="#p" x="554.5" y="318.5"/>
<use href="#p" x="576.5" y="371.5"/>
<use href="#p" x="532.5" y="393.5"/>
<use href="#p" x="564.5" y="355.5"/>
<use href="#p" x="579.5" y="359.5"/>
<use href="#p" x="525.5" y="333.5"/>
<use href="#p" x="561.5" y="368.5"/>
<use href="#p" x="558.5" y="293.5"/>
<use href="#p" x="552.5" y="270.5"/>
<use href="#p" x="553.5" y="315.5"/>
<use href="#p" x="569.5" y="303.5"/>
<use href="#p" x="585.5" y="388.5"/>
<use href="#p" x="519.5" y="342.5"/>
<use href="#p" x="580.5" y="392.5"/>
<use href="#p" x="573.5" y="339.5"/>
<use href="#p" x="520.5" y="347.5"/>
<use href="#p" x="538.5" y="321.5"/>
<use href="#p" x="561.5" y="397.5"/>
<use href="#p" x="577.5" y="390.5"/>
<use href="#p" x="550.5" y="279.5"/>
<use href="#p" x="573.5" y="368.5"/>
<use href="#p" x="587.5" y="383.5"/>
<use href="#p" x="571.5" y="342.5"/>
<use href="#p" x="560.5" y="388.5"/>
<use href="#p" x="579.5" y="405.5"/>
<use href="#p" x="567.5" y="345.5"/>
<use href="#p" x="550.5" y="348.5"/>
<use href="#p" x="576.5" y="330.5"/>
<use href="#p" x="566.5" y="378.5"/>
<use href="#p" x="562.5" y="319.5"/>
<use href="#p" x="543.5" y="283.5"/>
<use href="#p" x="596.5" y="405.5"/>
<use href="#p" x="573.5" y="390.5"/>
<use href="#p" x="564.5" y="329.5"/>
<use href="#p" x="549.5" y="339.5"/>
<use href="#p" x="594.5" y="368.5"/>
<use href="#p" x="534.5" y="392.5"/>
<use href="#p" x="565.5" y="319.5"/>
<use href="#p" x="547.5" y="275.5"/>
<use href="#p" x="551.5" y="304.5"/>
<use href="#p" x="555.5" y="338.5"/>
<use href="#p" x="578.5" y="370.5"/>
<use href="#p" x="533.5" y="292.5"/>
<use href="#p" x="574.5" y="341.5"/>
<use href="#p" x="504.5" y="346.5"/>
<use href="#p" x="580.5" y="332.5"/>
<use href="#p" x="557.5" y="286.5"/>
<use href="#p" x="547.5" y="367.5"/>
<use href="#p" x="565.5" y="305.5"/>
<use href="#p" x="596.5" y="399.5"/>
<use href="#p" x="501.5" y="336.5"/>
<use href="#p" x="589.5" y="400.5"/>
<use href="#p" x="553.5" y="310.5"/>
<use href="#p" x="590.5" y="366.5"/>
<use href="#p" x="573.5" y="387.5"/>
<use href="#p" x="540.5" y="374.5"/>
<use href="#p" x="579.5" y="344.5"/>
<use href="#p" x="571.5" y="322.5"/>
<use href="#p" x="571.5" y="383.5"/>
<use href="#p" x="519.5" y="317.5"/>
<use href="#p" x="571.5" y="378.5"/>
<use href="#p" x="535.5" y="341.5"/>
<use href="#p" x="591.5" y="407.5"/>
<use href="#p" x="527.5" y="345.5"/>
<use href="#p" x="541.5" y="298.5"/>
<use href="#p" x="535.5" y="331.5"/>
<use href="#p" x="582.5" y="389.5"/>
<use href="#p" x="570.5" y="398.5"/>
<use href="#p" x="536.5" y="352.5"/>
<use href="#p" x="579.5" y="355.5"/>
<use href="#p" x="556.5" y="295.5"/>
<use href="#p" x="539.5" y="291.5"/>
<use href="#p" x="525.5" y="350.5"/>
<use href="#p" x="512.5" y="323.5"/>
<use href="#p" x="567.5" y="368.5"/>
<use href="#p" x="529.5" y="346.5"/>
<use href="#p" x="588.5" y="396.5"/>
<use href="#p" x="539.5" y="349.5"/>
<use href="#p" x="511.5" y="350.5"/>
<use href="#p" x="567.5" y="375.5"/>
<use href="#p" x="557.5" y="294.5"/>
<use href="#p" x="556.5" y="367.5"/>
<use href="#p" x="587.5" y="399.5"/>
<use href="#p" x="521.5" y="374.5"/>
<use href="#p" x="596.5" y="403.5"/>
<use href="#p" x="531.5" y="297.5"/>
<use href="#p" x="554.5" y="279.5"/>
<use href="#p" x="542.5" y="353.5"/>
<use href="#p" x="542.5" y="274.5"/>
<use href="#p" x="580.5" y="379.5"/>
<use href="#p" x="547.5" y="304.5"/>
<use href="#p" x="525.5" y="369.5"/>
<use href="#p" x="583.5" y="403.5"/>
<use href="#p" x="572.5" y="344.5"/>
<use href="#p" x="548.5" y="337.5"/>
<use href="#p" x="532.5" y="298.5"/>
<use href="#p" x="551.5" y="297.5"/>
<use href="#p" x="581.5" y="340.5"/>
<use href="#p" x="566.5" y="368.5"/>
<use href="#p" x="587.5" y="380.5"/>
<use href="#p" x="562.5" y="322.5"/>
<use href="#p" x="555.5" y="370.5"/>
<use href="#p" x="581.5" y="384.5"/>
<use href="#p" x="589.5" y="368.5"/>
<use href="#p" x="590.5" y="345.5"/>
<use href="#p" x="594.5" y="391.5"/>
<use href="#p" x="582.5" y="352.5"/>
<use href="#p" x="579.5" y="384.5"/>
<use href="#p" x="577.5" y="345.5"/>
<use href="#p" x="551.5" y="262.5"/>
<use href="#p" x="544.5" y="388.5"/>
<use href="#p" x="597.5" y="396.5"/>
<use href="#p" x="592.5" y="393.5"/>
<use href="#p" x="549.5" y="276.5"/>
<use href="#p" x="576.5" y="324.5"/>
<use href="#p" x="560.5" y="348.5"/>
<use href="#p" x="578.5" y="356.5"/>
<use href="#p" x="568.5" y="332.5"/>
<use href="#p" x="558.5" y="399.5"/>
<use href="#p" x="605.5" y="408.5"/>
<use href="#p" x="566.5" y="370.5"/>
<use href="#p" x="562.5" y="305.5"/>
<use href="#p" x="551.5" y="296.5"/>
<use href="#p" x="571.5" y="406.5"/>
<use href="#p" x="574.5" y="366.5"/>
<use href="#p" x="529.5" y="369.5"/>
<use href="#p" x="558.5" y="293.5"/>
<use href="#p" x="557.5" y="304.5"/>
<use href="#p" x="518.5" y="346.5"/>
<use href="#p" x="539.5" y="397.5"/>
<use href="#p" x="553.5" y="278.5"/>
<use href="#p" x="585.5" y="375.5"/>
<use href="#p" x="552.5" y="363.5"/>
<use href="#p" x="565.5" y="326.5"/>
<use href="#p" x="526.5" y="375.5"/>
<use href="#p" x="537.5" y="263.5"/>
<use href="#p" x="522.5" y="332.5"/>
<use href="#p" x="558.5" y="269.5"/>
<use href="#p" x="600.5" y="405.5"/>
<use href="#p" x="545.5" y="357.5"/>
<use href="#p" x="520.5" y="312.5"/>
<use href="#p" x="551.5" y="272.5"/>
<use href="#p" x="556.5" y="291.5"/>
<use href="#p" x="546.5" y="303.5"/>
<use href="#p" x="533.5" y="320.5"/>
<use href="#p" x="535.5" y="293.5"/>
<use href="#p" x="564.5" y="346.5"/>
<use href="#p" x="512.5" y="320.5"/>
<use href="#p" x="513.5" y="300.5"/>
<use href="#p" x="537.5" y="369.5"/>
<use href="#p" x="583.5" y="386.5"/>
<use href="#p" x="585.5" y="389.5"/>
<use href="#p" x="579.5" y="377.5"/>
<use href="#p" x="575.5" y="332.5"/>
<use href="#p" x="571.5" y="348.5"/>
<use href="#p" x="541.5" y="301.5"/>
<use href="#p" x="521.5" y="300.5"/>
<use href="#p" x="593.5" y="408.5"/>
<use href="#p" x="572.5" y="370.5"/>
<use href="#p" x="545.5" y="277.5"/>
<use href="#p" x="554.5" y="377.5"/>
<use href="#p" x="538.5" y="335.5"/>
<use href="#p" x="511.5" y="356.5"/>
<use href="#p" x="586.5" y="386.5"/>
<use href="#p" x="580.5" y="381.5"/>
<use href="#p" x="558.5" y="403.5"/>
<use href="#p" x="567.5" y="338.5"/>
<use href="#p" x="588.5" y="405.5"/>
<use href="#p" x="551.5" y="386.5"/>
<use href="#p" x="558.5" y="405.5"/>
<use href="#p" x="566.5" y="310.5"/>
<use href="#p" x="543.5" y="286.5"/>
<use href="#p" x="567.5" y="356.5"/>
<use href="#p" x="558.5" y="332.5"/>
<use href="#p" x="506.5" y="364.5"/>
<use href="#p" x="579.5" y="371.5"/>
<use href="#p" x="546.5" y="372.5"/>
<use href="#p" x="561.5" y="291.5"/>
<use href="#p" x="534.5" y="286.5"/>
<use href="#p" x="561.5" y="320.5"/>
<use href="#p" x="581.5" y="355.5"/>
<use href="#p" x="564.5" y="335.5"/>
<use href="#p" x="578.5" y="352.5"/>
<use href="#p" x="583.5" y="394.5"/>
<use href="#p" x="544.5" y="346.5"/>
<use href="#p" x="591.5" y="388.5"/>
<use href="#p" x="545.5" y="296.5"/>
<use href="#p" x="593.5" y="396.5"/>
<use href="#p" x="545.5" y="336.5"/>
<use href="#p" x="567.5" y="328.5"/>
<use href="#p" x="558.5" y="335.5"/>
<use href="#p" x="524.5" y="317.5"/>
<use href="#p" x="560.5" y="337.5"/>
<use href="#p" x="552.5" y="366.5"/>
<use href="#p" x="549.5" y="285.5"/>
<use href="#p" x="526.5" y="340.5"/>
<use href="#p" x="565.5" y="336.5"/>
<use href="#p" x="563.5" y="346.5"/>
<use href="#p" x="567.5" y="327.5"/>
<use href="#p" x="592.5" y="397.5"/>
<use href="#p" x="576.5" y="346.5"/>
<use href="#p" x="546.5" y="292.5"/>
<use href="#p" x="565.5" y="322.5"/>
<use href="#p" x="538.5" y="366.5"/>
<use href="#p" x="578.5" y="322.5"/>
<use href="#p" x="583.5" y="383.5"/>
<use href="#p" x="528.5" y="349.5"/>
<use href="#p" x="591.5" y="390.5"/>
<use href="#p" x="566.5" y="314.5"/>
<use href="#p" x="540.5" y="302.5"/>
<use href="#p" x="543.5" y="325.5"/>
<use href="#p" x="562.5" y="390.5"/>
<use href="#p" x="541.5" y="360.5"/>
<use href="#p" x="555.5" y="299.5"/>
<use href="#p" x="525.5" y="315.5"/>
<use href="#p" x="568.5" y="397.5"/>
<use href="#p" x="548.5" y="312.5"/>
<use href="#p" x="579.5" y="339.5"/>
<use href="#p" x="572.5" y="387.5"/>
<use href="#p" x="524.5" y="390.5"/>
<use href="#p" x="550.5" y="367.5"/>
<use href="#p" x="552.5" y="273.5"/>
<use href="#p" x="562.5" y="399.5"/>
<use href="#p" x="568.5" y="390.5"/>
<use href="#p" x="488.5" y="353.5"/>
<use href="#p" x="555.5" y="304.5"/>
<use href="#p" x="545.5" y="367.5"/>
<use href="#p" x="600.5" y="408.5"/>
<use href="#p" x="517.5" y="387.5"/>
<use href="#p" x="550.5" y="315.5"/>
<use href="#p" x="569.5" y="291.5"/>
<use href="#p" x="540.5" y="327.5"/>
<use href="#p" x="537.5" y="311.5"/>
<use href="#p" x="533.5" y="304.5"/>
<use href="#p" x="566.5" y="349.5"/>
<use href="#p" x="569.5" y="315.5"/>
<use href="#p" x="559.5" y="340.5"/>
<use href="#p" x="557.5" y="330.5"/>
<use href="#p" x="526.5" y="303.5"/>
<use href="#p" x="565.5" y="400.5"/>
<use href="#p" x="535.5" y="304.5"/>
<use href="#p" x="571.5" y="374.5"/>
<use href="#p" x="602.5" y="406.5"/>
<use href="#p" x="572.5" y="338.5"/>
<use href="#p" x="536.5" y="397.5"/>
<use href="#p" x="552.5" y="272.5"/>
<use href="#p" x="552.5" y="402.5"/>
<use href="#p" x="562.5" y="296.5"/>
<use href="#p" x="536.5" y="366.5"/>
<use href="#p" x="540.5" y="300.5"/>
<use href="#p" x="548.5" y="304.5"/>
<use href="#p" x="577.5" y="345.5"/>
<use href="#p" x="538.5" y="306.5"/>
<use href="#p" x="565.5" y="327.5"/>
<use href="#p" x="545.5" y="287.5"/>
<use href="#p" x="591.5" y="393.5"/>
<use href="#p" x="557.5" y="386.5"/>
<use href="#p" x="510.5" y="312.5"/>
<use href="#p" x="591.5" y="374.5"/>
<use href="#p" x="584.5" y="362.5"/>
<use href="#p" x="550.5" y="333.5"/>
<use href="#p" x="587.5" y="343.5"/>
<use href="#p" x="499.5" y="315.5"/>
<use href="#p" x="556.5" y="306.5"/>
<use href="#p" x="564.5" y="378.5"/>
<use href="#p" x="546.5" y="279.5"/>
<use href="#p" x="564.5" y="334.5"/>
<use href="#p" x="569.5" y="312.5"/>
<use href="#p" x="553.5" y="358.5"/>
<use href="#p" x="567.5" y="307.5"/>
<use href="#p" x="597.5" y="400.5"/>
<use href="#p" x="579.5" y="373.5"/>
<use href="#p" x="549.5" y="363.5"/>
<use href="#p" x="546.5" y="375.5"/>
<use href="#p" x="526.5" y="322.5"/>
<use href="#p" x="556.5" y="330.5"/>
<use href="#p" x="557.5" y="392.5"/>
<use href="#p" x="548.5" y="376.5"/>
<use href="#p" x="557.5" y="275.5"/>
<use href="#p" x="566.5" y="363.5"/>
<use href="#p" x="582.5" y="329.5"/>
<use href="#p" x="516.5" y="326.5"/>
<use href="#p" x="544.5" y="319.5"/>
<use href="#p" x="563.5" y="310.5"/>
<use href="#p" x="518.5" y="301.5"/>
<use href="#p" x="539.5" y="285.5"/>
<use href="#p" x="544.5" y="313.5"/>
<use href="#p" x="565.5" y="334.5"/>
<use href="#p" x="508.5" y="329.5"/>
<use href="#p" x="549.5" y="338.5"/>
<use href="#p" x="564.5" y="341.5"/>
<use href="#p" x="585.5" y="379.5"/>
<use href="#p" x="533.5" y="346.5"/>
<use href="#p" x="590.5" y="411.5"/>
<use href="#p" x="563.5" y="384.5"/>
<use href="#p" x="581.5" y="379.5"/>
<use href="#p" x="583.5" y="385.5"/>
<use href="#p" x="519.5" y="367.5"/>
<use href="#p" x="554.5" y="264.5"/>
<use href="#p" x="560.5" y="379.5"/>
<use href="#p" x="543.5" y="366.5"/>
<use href="#p" x="554.5" y="387.5"/>
<use href="#p" x="563.5" y="351.5"/>
<use href="#p" x="558.5" y="295.5"/>
<use href="#p" x="541.5" y="358.5"/>
<use href="#p" x="590.5" y="386.5"/>
<use href="#p" x="543.5" y="314.5"/>
<use href="#p" x="491.5" y="319.5"/>
<use href="#p" x="508.5" y="343.5"/>
<use href="#p" x="553.5" y="279.5"/>
<use href="#p" x="565.5" y="302.5"/>
<use href="#p" x="556.5" y="276.5"/>
<use href="#p" x="556.5" y="298.5"/>
<use href="#p" x="587.5" y="411.5"/>
<use href="#p" x="569.5" y="370.5"/>
<use href="#p" x="579.5" y="386.5"/>
<use href="#p" x="599.5" y="396.5"/>
<use href="#p" x="573.5" y="345.5"/>
<use href="#p" x="577.5" y="383.5"/>
<use href="#p" x="580.5" y="350.5"/>
<use href="#p" x="525.5" y="346.5"/>
<use href="#p" x="519.5" y="394.5"/>
<use href="#p" x="581.5" y="347.5"/>
<use href="#p" x="554.5" y="284.5"/>
<use href="#p" x="591.5" y="371.5"/>
<use href="#p" x="533.5" y="356.5"/>
<use href="#p" x="557.5" y="299.5"/>
<use href="#p" x="557.5" y="309.5"/>
<use href="#p" x="562.5" y="301.5"/>
<use href="#p" x="542.5" y="341.5"/>
<use href="#p" x="549.5" y="323.5"/>
<use href="#p" x="537.5" y="321.5"/>
<use href="#p" x="547.5" y="302.5"/>
<use href="#p" x="566.5" y="348.5"/>
<use href="#p" x="566.5" y="387.5"/>
<use href="#p" x="532.5" y="305.5"/>
<use href="#p" x="572.5" y="349.5"/>
<use href="#p" x="560.5" y="289.5"/>
<use href="#p" x="559.5" y="335.5"/>
<use href="#p" x="540.5" y="281.5"/>
<use href="#p" x="552.5" y="319.5"/>
<use href="#p" x="540.5" y="335.5"/>
<use href="#p" x="525.5" y="289.5"/>
<use href="#p" x="568.5" y="311.5"/>
<use href="#p" x="514.5" y="307.5"/>
<use href="#p" x="513.5" y="382.5"/>
<use href="#p" x="535.5" y="386.5"/>
<use href="#p" x="567.5" y="396.5"/>
<use href="#p" x="563.5" y="367.5"/>
<use href="#p" x="569.5" y="383.5"/>
<use href="#p" x="572.5" y="398.5"/>
<use href="#p" x="595.5" y="393.5"/>
<use href="#p" x="566.5" y="311.5"/>
<use href="#p" x="509.5" y="290.5"/>
<use href="#p" x="567.5" y="322.5"/>
<use href="#p" x="558.5" y="385.5"/>
<use href="#p" x="580.5" y="343.5"/>
<use href="#p" x="587.5" y="380.5"/>
<use href="#p" x="571.5" y="366.5"/>
<use href="#p" x="544.5" y="370.5"/>
<use href="#p" x="551.5" y="318.5"/>
<use href="#p" x="555.5" y="340.5"/>
<use href="#p" x="571.5" y="310.5"/>
<use href="#p" x="591.5" y="388.5"/>
<use href="#p" x="522.5" y="309.5"/>
<use href="#p" x="562.5" y="309.5"/>
<use href="#p" x="539.5" y="309.5"/>
<use href="#p" x="543.5" y="338.5"/>
<use href="#p" x="543.5" y="303.5"/>
<use href="#p" x="598.5" y="391.5"/>
<use href="#p" x="570.5" y="286.5"/>
</g>
<g class="b">
<use href="#x" x="312.4" y="383.4"/>
<use href="#x" x="324.5" y="381.4"/>
<use href="#x" x="292.4" y="382.1"/>
<use href="#x" x="309.3" y="385.1"/>
<use href="#x" x="338.8" y="383.6"/>
<use href="#x" x="339" y="380.8"/>
<use href="#x" x="279.7" y="382.4"/>
<use href="#x" x="286" y="383.2"/>
<use href="#x" x="274" y="384.1"/>
<use href="#x" x="303.9" y="382.7"/>
<use href="#x" x="272.3" y="381.8"/>
<use href="#x" x="305.2" y="381.6"/>
<use href="#x" x="320" y="383.3"/>
<use href="#x" x="291.4" y="382.9"/>
<use href="#x" x="322.1" y="381.8"/>
<use href="#x" x="315.5" y="382.3"/>
<use href="#x" x="271.8" y="382"/>
<use href="#x" x="313" y="383.4"/>
<use href="#x" x="290" y="381.6"/>
<use href="#x" x="302" y="383.1"/>
<use href="#x" x="291.8" y="383.6"/>
<use href="#x" x="323.4" y="383.1"/>
<use href="#x" x="303.9" y="381.4"/>
<use href="#x" x="282.1" y="384.2"/>
<use href="#x" x="311.9" y="381.6"/>
<use href="#x" x="330.1" y="383.1"/>
<use href="#x" x="293.6" y="381.5"/>
<use href="#x" x="287.1" y="380.2"/>
<use href="#x" x="299.9" y="382.8"/>
<use href="#x" x="342.1" y="382.9"/>
<use href="#x" x="345.2" y="382.4"/>
<use href="#x" x="321.8" y="382.9"/>
<use href="#x" x="339.5" y="381.7"/>
<use href="#x" x="335.1" y="381.5"/>
<use href="#x" x="299.1" y="382.3"/>
<use href="#x" x="277.1" y="385"/>
<use href="#x" x="320.3" y="383.6"/>
<use href="#x" x="313" y="381.8"/>
<use href="#x" x="297.8" y="383.2"/>
<use href="#x" x="287.3" y="381.9"/>
<use href="#x" x="301.3" y="381.9"/>
<use href="#x" x="306.1" y="383.6"/>
<use href="#x" x="290.7" y="381.8"/>
<use href="#x" x="292.5" y="380.3"/>
<use href="#x" x="305.2" y="381.3"/>
<use href="#x" x="336.3" y="382.6"/>
<use href="#x" x="315.1" y="382.7"/>
<use href="#x" x="291.8" y="384.1"/>
<use href="#x" x="291.4" y="381.6"/>
<use href="#x" x="305" y="383.5"/>
<use href="#x" x="285.8" y="383.1"/>
<use href="#x" x="285.5" y="382.3"/>
<use href="#x" x="309.6" y="383.6"/>
<use href="#x" x="276.7" y="383.1"/>
<use href="#x" x="307.2" y="381.4"/>
<use href="#x" x="297.9" y="383.9"/>
<use href="#x" x="324.5" y="380.9"/>
<use href="#x" x="327.5" y="382.6"/>
<use href="#x" x="323.2" y="382.5"/>
<use href="#x" x="323.1" y="383.1"/>
<use href="#x" x="298.8" y="381.6"/>
<use href="#x" x="321.4" y="382.5"/>
<use href="#x" x="296.2" y="382.3"/>
<use href="#x" x="314.1" y="383.8"/>
<use href="#x" x="295.1" y="381.5"/>
<use href="#x" x="304.3" y="382.6"/>
<use href="#x" x="274.7" y="382.2"/>
<use href="#x" x="288.7" y="380.8"/>
<use href="#x" x="344.8" y="385.1"/>
<use href="#x" x="287.8" y="382.4"/>
<use href="#x" x="323.2" y="380.6"/>
<use href="#x" x="320.1" y="384.3"/>
<use href="#x" x="325.7" y="381.1"/>
<use href="#x" x="306.6" y="383"/>
<use href="#x" x="315.9" y="383.6"/>
<use href="#x" x="275.2" y="381.7"/>
<use href="#x" x="275.6" y="381.9"/>
<use href="#x" x="285.3" y="381.8"/>
<use href="#x" x="281.7" y="382.3"/>
<use href="#x" x="277.7" y="380.4"/>
<use href="#x" x="280" y="380.9"/>
<use href="#x" x="312.6" y="382.3"/>
<use href="#x" x="284.5" y="383.9"/>
<use href="#x" x="343.3" y="383.3"/>
<use href="#x" x="322.5" y="384.7"/>
<use href="#x" x="311.7" y="383.4"/>
<use href="#x" x="324.5" y="381.8"/>
<use href="#x" x="290.3" y="382.3"/>
<use href="#x" x="341.4" y="379.9"/>
<use href="#x" x="334.6" y="381.3"/>
<use href="#x" x="325.9" y="381.2"/>
<use href="#x" x="307" y="382.9"/>
<use href="#x" x="334.8" y="383.3"/>
<use href="#x" x="327.3" y="381.8"/>
<use href="#x" x="320.8" y="381.7"/>
<use href="#x" x="340.4" y="380.5"/>
<use href="#x" x="318.8" y="382.3"/>
<use href="#x" x="298.2" y="382.8"/>
<use href="#x" x="312.6" y="383.1"/>
<use href="#x" x="285.1" y="381.5"/>
<use href="#x" x="284.8" y="385.1"/>
<use href="#x" x="325.9" y="384.1"/>
<use href="#x" x="330.4" y="382.4"/>
<use href="#x" x="344.9" y="381.8"/>
<use href="#x" x="335.5" y="382.1"/>
<use href="#x" x="311.9" y="382.7"/>
<use href="#x" x="276.9" y="382.5"/>
<use href="#x" x="307.6" y="383.1"/>
<use href="#x" x="341.5" y="383.5"/>
<use href="#x" x="330.6" y="384.3"/>
<use href="#x" x="307.4" y="384"/>
<use href="#x" x="305.1" y="382.4"/>
<use href="#x" x="286.8" y="383"/>
<use href="#x" x="283.6" y="382"/>
<use href="#x" x="275.7" y="381.7"/>
<use href="#x" x="338.7" y="385"/>
<use href="#x" x="319.3" y="381.9"/>
<use href="#x" x="281" y="385.1"/>
<use href="#x" x="301.9" y="382"/>
<use href="#x" x="273.8" y="382.8"/>
<use href="#x" x="336.6" y="333.2"/>
<use href="#x" x="342.6" y="367.2"/>
</g>
<g class="k">
<use href="#o" x="301.4" y="382.8"/>
<use href="#o" x="320.3" y="384.2"/>
<use href="#o" x="323.2" y="383.8"/>
<use href="#o" x="286.5" y="383"/>
<use href="#o" x="288.1" y="384.3"/>
<use href="#o" x="322" y="383.2"/>
<use href="#o" x="293" y="384.7"/>
<use href="#o" x="278" y="384"/>
<use href="#o" x="312.2" y="384.1"/>
<use href="#o" x="296.5" y="383.7"/>
<use href="#o" x="313.2" y="384.2"/>
<use href="#o" x="299.8" y="382.6"/>
<use href="#o" x="301" y="383.7"/>
<use href="#o" x="296.7" y="383.3"/>
<use href="#o" x="290.1" y="383.9"/>
<use href="#o" x="321.8" y="383.7"/>
<use href="#o" x="309.8" y="384.1"/>
<use href="#o" x="316" y="383.2"/>
<use href="#o" x="321.6" y="384.8"/>
<use href="#o" x="288" y="385.1"/>
<use href="#o" x="322.8" y="383.6"/>
<use href="#o" x="319.9" y="383.7"/>
<use href="#o" x="301.3" y="383.9"/>
<use href="#o" x="304.5" y="384.5"/>
<use href="#o" x="281" y="384.8"/>
<use href="#o" x="314.6" y="383"/>
<use href="#o" x="284" y="383.3"/>
<use href="#o" x="302.8" y="383.1"/>
<use href="#o" x="281.6" y="383"/>
<use href="#o" x="278.8" y="382.7"/>
<use href="#o" x="306.7" y="383.9"/>
<use href="#o" x="300.5" y="383"/>
<use href="#o" x="310.1" y="384.6"/>
<use href="#o" x="316.1" y="384.2"/>
<use href="#o" x="326.1" y="383.1"/>
<use href="#o" x="279.4" y="383.1"/>
<use href="#o" x="307.8" y="383.3"/>
<use href="#o" x="305" y="384.5"/>
<use href="#o" x="308.8" y="383.2"/>
<use href="#o" x="303.2" y="382.8"/>
<use href="#o" x="304" y="383.7"/>
<use href="#o" x="320.2" y="383.9"/>
<use href="#o" x="298.5" y="383.3"/>
<use href="#o" x="302.8" y="384.7"/>
<use href="#o" x="310.9" y="383.8"/>
<use href="#o" x="279.7" y="384"/>
<use href="#o" x="297.5" y="383.2"/>
<use href="#o" x="280.3" y="383.7"/>
<use href="#o" x="282.2" y="383.6"/>
<use href="#o" x="275.1" y="382.3"/>
<use href="#o" x="285.9" y="383.9"/>
<use href="#o" x="286.3" y="382.6"/>
<use href="#o" x="301.8" y="383.7"/>
<use href="#o" x="304.7" y="382.8"/>
<use href="#o" x="317.8" y="384.9"/>
<use href="#o" x="300.3" y="383.9"/>
<use href="#o" x="321.4" y="384.2"/>
<use href="#o" x="295.5" y="384.3"/>
<use href="#o" x="313.7" y="382.9"/>
<use href="#o" x="303.7" y="382.3"/>
</g>
<path d="M100.8 383.5H720" stroke="#00f" stroke-width="1.39" stroke-dasharray="8.33 8.33" fill="none"/>
</g>
<rect class="ax" x="100.5" y="60.5" width="620" height="480" stroke-width="1.3"/>
<path class="ax" stroke-width="1" stroke-opacity=".75" d="M100.5 540v-5.6M183.5 540v-5.6M265.5 540v-5.6M348.5 540v-5.6M431.5 540v-5.6M513.5 540v-5.6M596.5 540v-5.6M679.5 540v-5.6M139.5 61v5.6M222.5 61v5.6M304.5 61v5.6M387.5 61v5.6M470.5 61v5.6M552.5 61v5.6M635.5 61v5.6M718.5 61v5.6M101 540.5h5.6M720 540.5h-5.6M101 420.5h5.6M720 420.5h-5.6M101 300.5h5.6M720 300.5h-5.6M101 180.5h5.6M720 180.5h-5.6M101 60.5h5.6M720 60.5h-5.6"/>
<text y="28.8" font-size="20.6"><tspan x="302.2" textLength="63.0" lengthAdjust="spacingAndGlyphs">FWHM</tspan> <tspan x="372.4" textLength="21.4" lengthAdjust="spacingAndGlyphs">vs</tspan> <tspan x="400.3" textLength="119.6" lengthAdjust="spacingAndGlyphs">magnitudes</tspan></text>
<text y="583.6" font-size="17.6"><tspan x="264.8" textLength="89.9" lengthAdjust="spacingAndGlyphs">magnitude</tspan> <tspan x="359.9" textLength="102.5" lengthAdjust="spacingAndGlyphs">(bottom:isnt</tspan> <tspan x="467.8" textLength="5.5" lengthAdjust="spacingAndGlyphs">/</tspan> <tspan x="478.5" textLength="78.5" lengthAdjust="spacingAndGlyphs">top:calib)</tspan></text>
<text y="0" font-size="17.6" transform="translate(64.2 599) rotate(-90)"><tspan x="251.7" textLength="51.2" lengthAdjust="spacingAndGlyphs">FWHM</tspan> <tspan x="308.9" textLength="38.1" lengthAdjust="spacingAndGlyphs">(pix)</tspan></text>
<text y="560" font-size="17.8"><tspan x="83.6" textLength="12.2" lengthAdjust="spacingAndGlyphs">−</tspan><tspan x="96.1" textLength="20.6" lengthAdjust="spacingAndGlyphs">20</tspan></text>
<text y="560" font-size="17.8"><tspan x="166.6" textLength="12.2" lengthAdjust="spacingAndGlyphs">−</tspan><tspan x="179.3" textLength="20.3" lengthAdjust="spacingAndGlyphs">18</tspan></text>
<text y="560" font-size="17.8"><tspan x="248.4" textLength="12.2" lengthAdjust="spacingAndGlyphs">−</tspan><tspan x="261.5" textLength="20.0" lengthAdjust="spacingAndGlyphs">16</tspan></text>
<text y="560" font-size="17.8"><tspan x="331.2" textLength="12.2" lengthAdjust="spacingAndGlyphs">−</tspan><tspan x="344.3" textLength="20.1" lengthAdjust="spacingAndGlyphs">14</tspan></text>
<text y="560" font-size="17.8"><tspan x="414.6" textLength="12.2" lengthAdjust="spacingAndGlyphs">−</tspan><tspan x="427.7" textLength="19.8" lengthAdjust="spacingAndGlyphs">12</tspan></text>
<text y="560" font-size="17.8"><tspan x="497.6" textLength="12.2" lengthAdjust="spacingAndGlyphs">−</tspan><tspan x="510.7" textLength="19.6" lengthAdjust="spacingAndGlyphs">10</tspan></text>
<text y="560" font-size="17.8"><tspan x="585.6" textLength="12.2" lengthAdjust="spacingAndGlyphs">−</tspan><tspan x="598.0" textLength="9.5" lengthAdjust="spacingAndGlyphs">8</tspan></text>
<text y="560" font-size="17.8"><tspan x="667.6" textLength="12.2" lengthAdjust="spacingAndGlyphs">−</tspan><tspan x="680.0" textLength="10.0" lengthAdjust="spacingAndGlyphs">6</tspan></text>
<text y="50" font-size="17.8"><tspan x="129.8" textLength="18.7" lengthAdjust="spacingAndGlyphs">14</tspan></text>
<text y="50" font-size="17.8"><tspan x="211.8" textLength="19.0" lengthAdjust="spacingAndGlyphs">16</tspan></text>
<text y="50" font-size="17.8"><tspan x="294.8" textLength="19.0" lengthAdjust="spacingAndGlyphs">18</tspan></text>
<text y="50" font-size="17.8"><tspan x="376.1" textLength="19.6" lengthAdjust="spacingAndGlyphs">20</tspan></text>
<text y="50" font-size="17.8"><tspan x="459.1" textLength="19.3" lengthAdjust="spacingAndGlyphs">22</tspan></text>
<text y="50" font-size="17.8"><tspan x="541.1" textLength="19.5" lengthAdjust="spacingAndGlyphs">24</tspan></text>
<text y="50" font-size="17.8"><tspan x="624.1" textLength="19.5" lengthAdjust="spacingAndGlyphs">26</tspan></text>
<text y="50" font-size="17.8"><tspan x="707.1" textLength="19.5" lengthAdjust="spacingAndGlyphs">28</tspan></text>
<text y="544.9" font-size="17.8"><tspan x="85.3" textLength="9.7" lengthAdjust="spacingAndGlyphs">0</tspan></text>
<text y="424.9" font-size="17.8"><tspan x="85.4" textLength="9.4" lengthAdjust="spacingAndGlyphs">5</tspan></text>
<text y="304.9" font-size="17.8"><tspan x="75.8" textLength="18.8" lengthAdjust="spacingAndGlyphs">10</tspan></text>
<text y="184.9" font-size="17.8"><tspan x="75.8" textLength="18.6" lengthAdjust="spacingAndGlyphs">15</tspan></text>
<text y="64.9" font-size="17.8"><tspan x="75.1" textLength="19.6" lengthAdjust="spacingAndGlyphs">20</tspan></text>
<rect x="398.5" y="70.5" width="312" height="121" fill="#fff" stroke="#000" stroke-width="1.3"/>
<g class="c"><use href="#p" x="412.5" y="86.5"/><use href="#p" x="440.5" y="86.5"/></g>
<g class="b"><use href="#x" x="412.5" y="115.3"/><use href="#x" x="440.5" y="115.3"/></g>
<g class="k"><use href="#o" x="412.5" y="144.3"/><use href="#o" x="440.5" y="144.3"/></g>
<path d="M412.7 173.5H440.7" stroke="#00f" stroke-width="1.39" stroke-dasharray="8.33 8.33" fill="none"/>
<text y="93" font-size="20.6"><tspan x="462.1" textLength="23.1" lengthAdjust="spacingAndGlyphs">all</tspan> <tspan x="491.9" textLength="73.0" lengthAdjust="spacingAndGlyphs">sample</tspan></text>
<text y="122" font-size="20.6"><tspan x="461.9" textLength="73.0" lengthAdjust="spacingAndGlyphs">sample</tspan> <tspan x="541.4" textLength="27.8" lengthAdjust="spacingAndGlyphs">for</tspan> <tspan x="575.6" textLength="57.8" lengthAdjust="spacingAndGlyphs">rough</tspan> <tspan x="640.7" textLength="63.3" lengthAdjust="spacingAndGlyphs">FWHM</tspan></text>
<text y="151" font-size="20.6"><tspan x="462.2" textLength="66.9" lengthAdjust="spacingAndGlyphs">coarse</tspan> <tspan x="535.6" textLength="77.2" lengthAdjust="spacingAndGlyphs">PSF-like</tspan> <tspan x="619.1" textLength="73.0" lengthAdjust="spacingAndGlyphs">sample</tspan></text>
<text y="180" font-size="20.6"><tspan x="462.0" textLength="91.2" lengthAdjust="spacingAndGlyphs">tentative</tspan> <tspan x="559.7" textLength="63.3" lengthAdjust="spacingAndGlyphs">FWHM</tspan></text>
</svg>
</body></html>
